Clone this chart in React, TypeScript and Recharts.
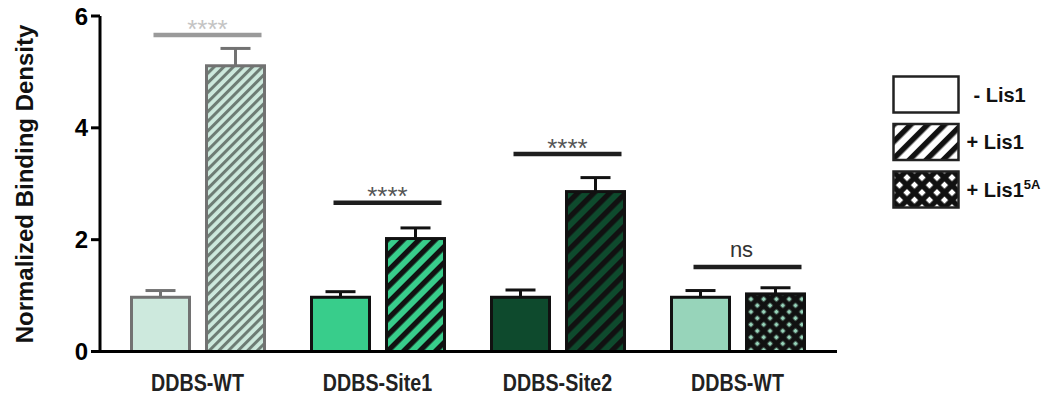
import React from 'react';
import { BarChart, Bar, XAxis, YAxis, Legend } from 'recharts';

const categories = ['DDBS-WT', 'DDBS-Site1', 'DDBS-Site2', 'DDBS-WT'];
const minusLis1 = [0.97, 0.97, 0.97, 0.97];
const minusLis1Err = [0.12, 0.1, 0.13, 0.12];
const plusLis1 = [5.11, 2.02, 2.86, 1.03];
const plusLis1Err = [0.31, 0.19, 0.25, 0.11];
const sigLevels = [5.66, 2.66, 3.53, 1.51];
const sigLabels = ['****', '****', '****', 'ns'];
const yTicks = [0, 2, 4, 6];
const legendLabels = ['- Lis1', '+ Lis1', '+ Lis1'];
const legendSup = ['', '', '5A'];

const data = categories.map((name, i) => ({
  name,
  minus: minusLis1[i],
  minusErr: minusLis1Err[i],
  plus: plusLis1[i],
  plusErr: plusLis1Err[i],
  sig: sigLevels[i],
  sigLabel: sigLabels[i],
}));

const fills = ['#cde9dd', '#38cd8b', '#0e4a2d', '#97d4ba'];
const strokes = ['#727272', '#111', '#111', '#111'];
const plusFills = ['url(#hatchWT)', 'url(#hatchSite1)', 'url(#hatchSite2)', 'url(#crossWT)'];
const sigColors = ['#9a9a9a', '#1e1e1e', '#1e1e1e', '#1e1e1e'];
const sigTextColors = ['#c4c4c4', '#555', '#555', '#333'];

const FONT = "'Liberation Sans', Arial, sans-serif";

function barWithError(props: any, valueKey: string, errKey: string, fill: string) {
  const { x, y, width, height, index, payload } = props;
  const unit = height / payload[valueKey];
  const errTop = y - payload[errKey] * unit;
  const cx = x + width / 2;
  const stroke = strokes[index];
  return (
    <g>
      <rect x={x} y={y} width={width} height={height} fill={fill} stroke={stroke} strokeWidth={3} />
      <line x1={cx} y1={y} x2={cx} y2={errTop} stroke={stroke} strokeWidth={3} />
      <line x1={cx - 15} y1={errTop} x2={cx + 15} y2={errTop} stroke={stroke} strokeWidth={3} />
    </g>
  );
}

const MinusShape = (props: any) => barWithError(props, 'minus', 'minusErr', fills[props.index]);

const PlusShape = (props: any) => {
  const { x, y, width, height, index, payload } = props;
  const unit = height / payload.plus;
  const sigY = y + height - payload.sig * unit;
  const x1 = x - 53;
  const x2 = x + width - 3;
  const mid = (x1 + x2) / 2;
  const isNs = payload.sigLabel === 'ns';
  return (
    <g>
      {barWithError(props, 'plus', 'plusErr', plusFills[index])}
      <line x1={x1} y1={sigY} x2={x2} y2={sigY} stroke={sigColors[index]} strokeWidth={4.5} />
      <text
        x={isNs ? mid - 6 : mid}
        y={isNs ? sigY - 10.5 : sigY + 2.5}
        textAnchor="middle"
        fontFamily={FONT}
        fontSize={isNs ? 22 : 26}
        fill={sigTextColors[index]}
      >
        {payload.sigLabel}
      </text>
    </g>
  );
};

// narrow bold category labels (Arial Narrow look)
const CategoryTick = (props: any) => {
  const { x, y, payload } = props;
  return (
    <text
      transform={`translate(${x}, ${y}) scale(0.82, 1)`}
      textAnchor="middle"
      dy={17}
      fontFamily={FONT}
      fontWeight={700}
      fontSize={24}
      fill="#222"
    >
      {payload.value}
    </text>
  );
};

const legendFills = ['#fff', 'url(#legHatch)', 'url(#legCross)'];

const LegendContent = () => (
  <svg width={170} height={145} style={{ display: 'block' }}>
    <defs>
      <pattern id="legHatch" width={12} height={12} patternUnits="userSpaceOnUse" patternTransform="rotate(45)">
        <rect width={12} height={12} fill="#fff" />
        <rect width={5.5} height={12} fill="#111" />
      </pattern>
      <pattern id="legCross" width={10.6} height={10.6} patternUnits="userSpaceOnUse" patternTransform="rotate(45)">
        <rect width={10.6} height={10.6} fill="#111" />
        <rect x={2.8} y={2.8} width={5.2} height={5.2} fill="#fff" />
      </pattern>
    </defs>
    {legendLabels.map((label, i) => (
      <g key={i} transform={`translate(0, ${i * 47.5})`}>
        <rect x={1.5} y={1.5} width={65} height={36} fill={legendFills[i]} stroke="#222" strokeWidth={2.5} />
        <text x={i === 0 ? 81.5 : 74.5} y={26.5} fontFamily={FONT} fontWeight={700} fontSize={20} fill="#111">
          {label}
          {legendSup[i] && (
            <tspan fontSize={13} dy={-8}>
              {legendSup[i]}
            </tspan>
          )}
        </text>
      </g>
    ))}
  </svg>
);

const YLabel = () => (
  <text
    x={24}
    y={184}
    transform="rotate(-90 24 184)"
    textAnchor="middle"
    dominantBaseline="central"
    fontFamily={FONT}
    fontWeight={700}
    fontSize={24}
    fill="#111"
  >
    Normalized Binding Density
  </text>
);

export default function App() {
  return (
    <div style={{ width: 1059, height: 395, background: '#fff', position: 'relative' }}>
      <style>{'body{margin:0}'}</style>
      <BarChart
        width={1059}
        height={395}
        data={data}
        margin={{ top: 16, right: 222, left: 0, bottom: 4 }}
        barCategoryGap={23.5}
        barGap={17}
        barSize={58}
      >
        <defs>
          <pattern id="hatchWT" width={6.8} height={6.8} patternUnits="userSpaceOnUse" patternTransform="rotate(45)">
            <rect width={6.8} height={6.8} fill="#cde9dd" />
            <rect width={3} height={6.8} fill="#6d7c74" />
          </pattern>
          <pattern id="hatchSite1" width={11.3} height={11.3} patternUnits="userSpaceOnUse" patternTransform="rotate(45)">
            <rect width={11.3} height={11.3} fill="#38cd8b" />
            <rect width={5.3} height={11.3} fill="#111" />
          </pattern>
          <pattern id="hatchSite2" width={11.3} height={11.3} patternUnits="userSpaceOnUse" patternTransform="rotate(45)">
            <rect width={11.3} height={11.3} fill="#0e4a2d" />
            <rect width={5.3} height={11.3} fill="#111" />
          </pattern>
          <pattern id="crossWT" width={9} height={9} patternUnits="userSpaceOnUse" patternTransform="rotate(45)">
            <rect width={9} height={9} fill="#111" />
            <rect x={2.6} y={2.6} width={3.8} height={3.8} fill="#97d4ba" />
          </pattern>
        </defs>
        <XAxis
          dataKey="name"
          height={39.5}
          padding={{ left: 7.5, right: 9.5 }}
          axisLine={{ stroke: '#000', strokeWidth: 3 }}
          tickLine={false}
          tickMargin={16}
          tick={<CategoryTick />}
        />
        <YAxis
          domain={[0, 6]}
          ticks={yTicks}
          width={100}
          axisLine={{ stroke: '#000', strokeWidth: 3 }}
          tickLine={{ stroke: '#000', strokeWidth: 3 }}
          tickSize={9}
          tickMargin={3}
          tick={{ fontFamily: FONT, fontWeight: 700, fontSize: 24, fill: '#000' }}
          label={<YLabel />}
        />
        <Legend
          content={<LegendContent />}
          wrapperStyle={{ position: 'absolute', left: 891.5, top: 74.5, width: 0, height: 0, overflow: 'visible' }}
        />
        <Bar dataKey="minus" shape={MinusShape} isAnimationActive={false} />
        <Bar dataKey="plus" shape={PlusShape} isAnimationActive={false} />
      </BarChart>
    </div>
  );
}
